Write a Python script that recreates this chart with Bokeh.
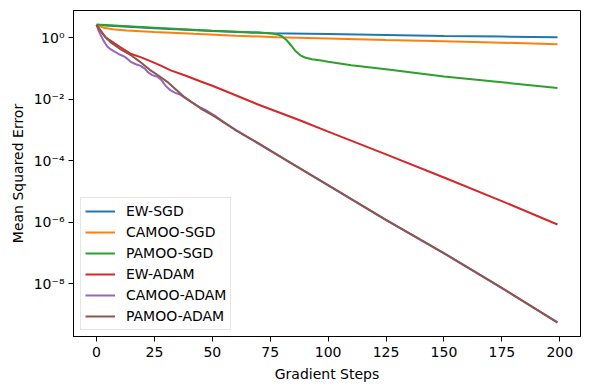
from bokeh.plotting import figure
from bokeh.models import FixedTicker, CustomJSTickFormatter, Range1d, Legend, LegendItem
from bokeh.embed import file_html
from bokeh.resources import INLINE

# ---- data ----
ew_sgd_x = [0, 25, 50, 75, 100, 125, 150, 175, 199]
ew_sgd_y = [2.57, 2.0, 1.62, 1.38, 1.29, 1.20, 1.12, 1.07, 1.02]

camoo_sgd_x = [0, 3, 7, 13, 25, 42, 60, 78, 100, 125, 150, 175, 199]
camoo_sgd_y = [2.57, 2.09, 1.86, 1.70, 1.51, 1.32, 1.15, 1.02, 0.93, 0.83, 0.76, 0.68, 0.60]

pamoo_sgd_x = [0, 25, 50, 70, 76, 78, 80, 82, 84, 86, 88, 90, 93, 97, 100, 110, 125, 150, 175, 199]
pamoo_sgd_y = [2.63, 2.09, 1.66, 1.45, 1.35, 1.26, 1.10, 0.83, 0.55, 0.355, 0.263, 0.224, 0.195,
               0.178, 0.162, 0.126, 0.093, 0.054, 0.035, 0.023]

ew_adam_x = [0, 2, 4, 6, 10, 15, 19, 23, 28, 32, 38, 45, 50, 54, 70, 88, 100, 125, 150, 175, 199]
ew_adam_y = [2.57, 1.58, 1.0, 0.79, 0.50, 0.29, 0.23, 0.174, 0.12, 0.085, 0.059, 0.037, 0.027,
             0.0204, 6.5e-3, 2.0e-3, 8.7e-4, 1.58e-4, 2.8e-5, 4.8e-6, 8.3e-7]

camoo_adam_x = [0, 1, 2, 3, 4, 5, 6, 8, 10, 12, 13, 15, 17, 19, 21, 22, 24, 26, 28, 30, 32, 34,
                36, 38, 41, 45, 48, 51, 55, 60, 70, 84, 100, 125, 150, 175, 199]
camoo_adam_y = [2.57, 1.58, 1.12, 0.79, 0.60, 0.48, 0.42, 0.34, 0.28, 0.24, 0.21, 0.158, 0.135,
                0.120, 0.095, 0.076, 0.060, 0.054, 0.042, 0.026, 0.019, 0.0158, 0.0141, 0.011,
                7.9e-3, 5.2e-3, 4.0e-3, 2.9e-3, 1.74e-3, 9.8e-4, 3.5e-4, 8.2e-5, 1.55e-5,
                1.15e-6, 9.6e-8, 7.1e-9, 5.4e-10]

pamoo_adam_x = [0, 1, 4, 6, 10, 15, 19, 23, 27, 31, 38, 45, 50, 55, 60, 70, 84, 100, 125,
                150, 175, 199]
pamoo_adam_y = [2.57, 1.91, 1.0, 0.71, 0.43, 0.26, 0.158, 0.089, 0.056, 0.034, 0.0115, 4.9e-3,
                3.0e-3, 1.74e-3, 1.0e-3, 3.6e-4, 8.3e-5, 1.58e-5, 1.17e-6, 9.8e-8,
                7.2e-9, 5.5e-10]

series_names = ["EW-SGD", "CAMOO-SGD", "PAMOO-SGD", "EW-ADAM", "CAMOO-ADAM", "PAMOO-ADAM"]
series_colors = ["#1f77b4", "#ff7f0e", "#2ca02c", "#d62728", "#9467bd", "#8c564b"]
series_data = [(ew_sgd_x, ew_sgd_y), (camoo_sgd_x, camoo_sgd_y), (pamoo_sgd_x, pamoo_sgd_y),
               (ew_adam_x, ew_adam_y), (camoo_adam_x, camoo_adam_y), (pamoo_adam_x, pamoo_adam_y)]

x_ticks = [0, 25, 50, 75, 100, 125, 150, 175, 200]
y_ticks = [1e-8, 1e-6, 1e-4, 1e-2, 1.0]

FONT = "DejaVu Sans"

p = figure(width=590, height=390, y_axis_type="log", output_backend="svg",
           toolbar_location=None,
           x_range=Range1d(-9.95, 208.95), y_range=Range1d(1.9e-10, 7.55),
           min_border_left=73, min_border_right=10, min_border_top=10, min_border_bottom=54)

items = []
for name, color, (xs, ys) in zip(series_names, series_colors, series_data):
    r = p.line(xs, ys, line_color=color, line_width=2)
    items.append(LegendItem(label=name, renderers=[r]))

legend = Legend(items=items, location=(7, 6), margin=0, padding=4, spacing=3,
                label_height=18, glyph_height=18, glyph_width=30, label_standoff=11,
                label_text_font=FONT, label_text_font_size="14px", label_text_color="black",
                border_line_color="#cccccc", border_line_width=1,
                background_fill_color="white", background_fill_alpha=0.8)
p.add_layout(legend, "center")

p.xgrid.visible = False
p.ygrid.visible = False
p.outline_line_color = "black"
p.outline_line_width = 1
p.outline_line_alpha = 1

p.xaxis.ticker = FixedTicker(ticks=x_ticks)
p.yaxis.ticker = FixedTicker(ticks=y_ticks, minor_ticks=[])
p.yaxis.formatter = CustomJSTickFormatter(code="""
const e = Math.round(Math.log10(tick));
const sup = {'0':'\u2070','1':'\u00b9','2':'\u00b2','3':'\u00b3','4':'\u2074','5':'\u2075',
             '6':'\u2076','7':'\u2077','8':'\u2078','9':'\u2079','-':'\u207b'};
return '10' + String(e).split('').map(c => sup[c]).join('');
""")

for ax in (p.xaxis, p.yaxis):
    ax.axis_line_color = "black"
    ax.major_tick_line_color = "black"
    ax.major_tick_out = 5
    ax.major_tick_in = 0
    ax.minor_tick_out = 0
    ax.minor_tick_in = 0
    ax.major_label_text_font = FONT
    ax.major_label_text_font_size = "14px"
    ax.major_label_text_color = "black"
    ax.axis_label_text_font = FONT
    ax.axis_label_text_font_size = "14px"
    ax.axis_label_text_font_style = "normal"
    ax.axis_label_text_color = "black"

p.xaxis.axis_label = "Gradient Steps"
p.yaxis.axis_label = "Mean Squared Error"
p.xaxis.major_label_standoff = 5
p.yaxis.major_label_standoff = 4
p.xaxis.axis_label_standoff = 6
p.yaxis.axis_label_standoff = 5

open("out.html", "w").write(file_html(p, INLINE))
